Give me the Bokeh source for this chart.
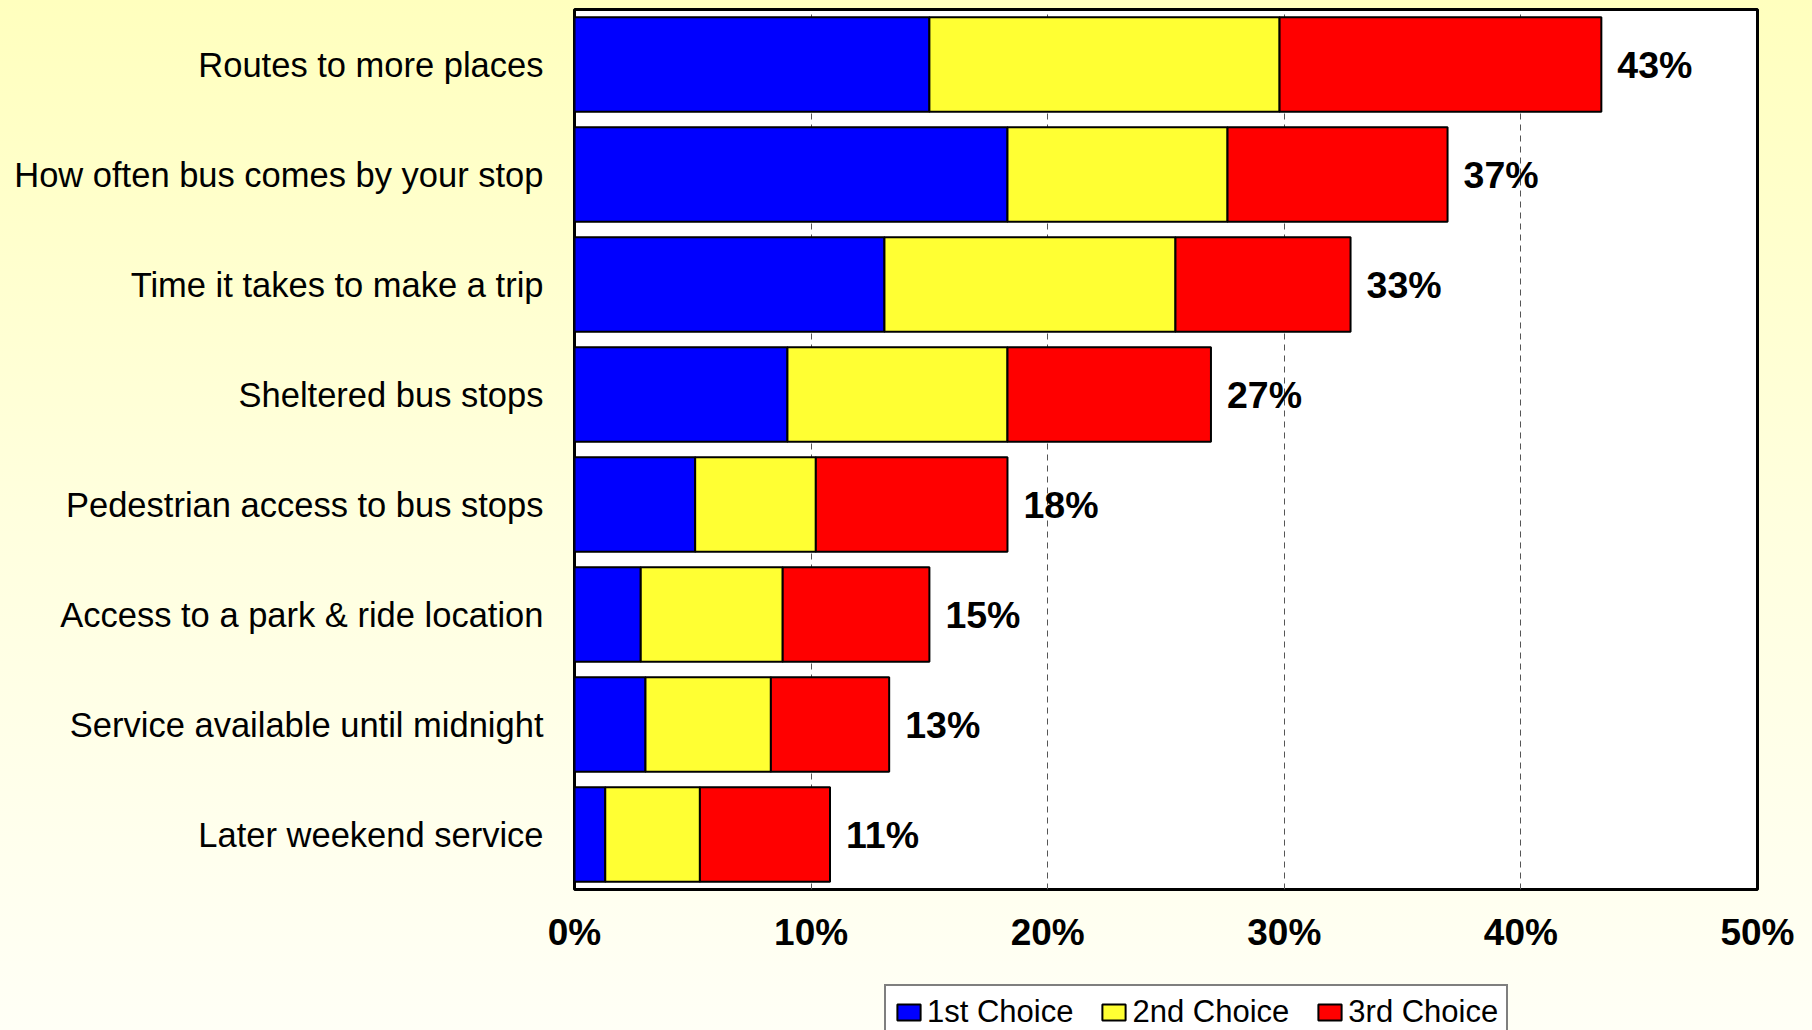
from bokeh.plotting import figure
from bokeh.layouts import column
from bokeh.models import ColumnDataSource, FactorRange, FixedTicker, Legend, LegendItem, Range1d
from bokeh.core.properties import value
from bokeh.embed import file_html
from bokeh.resources import INLINE

# ---- data ----
categories = [
    "Routes to more places",
    "How often bus comes by your stop",
    "Time it takes to make a trip",
    "Sheltered bus stops",
    "Pedestrian access to bus stops",
    "Access to a park & ride location",
    "Service available until midnight",
    "Later weekend service",
]
first_choice = [15.0, 18.3, 13.1, 9.0, 5.1, 2.8, 3.0, 1.3]
second_choice = [14.8, 9.3, 12.3, 9.3, 5.1, 6.0, 5.3, 4.0]
third_choice = [13.6, 9.3, 7.4, 8.6, 8.1, 6.2, 5.0, 5.5]
series_names = ["1st Choice", "2nd Choice", "3rd Choice"]
series_colors = ["#0000FF", "#FFFF33", "#FF0000"]
tick_values = [0, 10, 20, 30, 40, 50]
tick_labels = ["0%", "10%", "20%", "30%", "40%", "50%"]

totals = [a + b + c for a, b, c in zip(first_choice, second_choice, third_choice)]
total_labels = [f"{round(t)}%" for t in totals]

source = ColumnDataSource(dict(
    cat=categories,
    first=first_choice,
    second=second_choice,
    third=third_choice,
    total=totals,
    label=total_labels,
))

FONT = "Liberation Sans"

# ---------------- main chart ----------------
p = figure(
    width=1812, height=975,
    y_range=FactorRange(*reversed(categories), range_padding=0),
    x_range=Range1d(0, 50),
    output_backend="svg", toolbar_location=None,
    min_border_left=574, min_border_right=55, min_border_top=9, min_border_bottom=86,
)

p.border_fill_color = None
p.background_fill_color = "white"
p.outline_line_color = "black"
p.outline_line_width = 3

renderers = p.hbar_stack(
    ["first", "second", "third"], y="cat", height=0.86,
    color=series_colors, line_color="black", line_width=2, source=source,
)

p.text(
    x="total", y="cat", text="label", x_offset=16,
    text_align="left", text_baseline="middle",
    text_font=value(FONT), text_font_style="bold", text_font_size="37.5px",
    text_color="black", source=source,
)

p.xgrid.ticker = FixedTicker(ticks=tick_values[1:-1])
p.xgrid.grid_line_color = "#555555"
p.xgrid.grid_line_dash = "6 5"
p.xgrid.grid_line_width = 1
p.ygrid.visible = False

p.xaxis.ticker = FixedTicker(ticks=tick_values)
p.xaxis.major_label_overrides = {v: l for v, l in zip(tick_values, tick_labels)}
p.xaxis.axis_line_color = None
p.xaxis.major_tick_line_color = None
p.xaxis.minor_tick_line_color = None
p.xaxis.major_label_text_font = FONT
p.xaxis.major_label_text_font_style = "bold"
p.xaxis.major_label_text_font_size = "37px"
p.xaxis.major_label_text_color = "black"
p.xaxis.major_label_standoff = 16

p.yaxis.axis_line_color = None
p.yaxis.major_tick_line_color = None
p.yaxis.minor_tick_line_color = None
p.yaxis.major_label_text_font = FONT
p.yaxis.major_label_text_font_size = "34.5px"
p.yaxis.major_label_text_color = "black"
p.yaxis.major_label_standoff = 25

# ---------------- legend strip ----------------
lg = figure(
    width=1812, height=55,
    y_range=FactorRange(*reversed(categories)),
    x_range=Range1d(0, 50),
    output_backend="svg", toolbar_location=None,
    x_axis_location=None, y_axis_location=None,
    min_border_left=0, min_border_right=0, min_border_top=0, min_border_bottom=0,
)
lg.border_fill_color = None
lg.background_fill_color = None
lg.outline_line_color = None
lg.xgrid.visible = False
lg.ygrid.visible = False
# same series, hidden: only their legend entries are shown in this strip
lg_renderers = lg.hbar_stack(
    ["first", "second", "third"], y="cat", height=0.86,
    color=series_colors, line_color="black", line_width=2, source=source,
)
for r in lg_renderers:
    r.visible = False

legend = Legend(
    items=[LegendItem(label=n, renderers=[r]) for n, r in zip(series_names, lg_renderers)],
    orientation="horizontal",
    location=(310, -10),
    click_policy="none",
    inactive_fill_alpha=0,
    label_text_font=FONT,
    label_text_font_size="31px",
    label_text_color="black",
    glyph_width=29, glyph_height=20,
    label_standoff=4, spacing=26,
    padding=8, margin=0,
    border_line_color="black", border_line_width=2,
    background_fill_color="white", background_fill_alpha=1,
)
lg.add_layout(legend, "center")

layout = column(p, lg, spacing=0)
layout.styles = {"background": "linear-gradient(180deg, #FFFFBE 0%, #FFFFDE 50%, #FFFFF6 100%)"}

open("out.html", "w").write(file_html(layout, INLINE))
